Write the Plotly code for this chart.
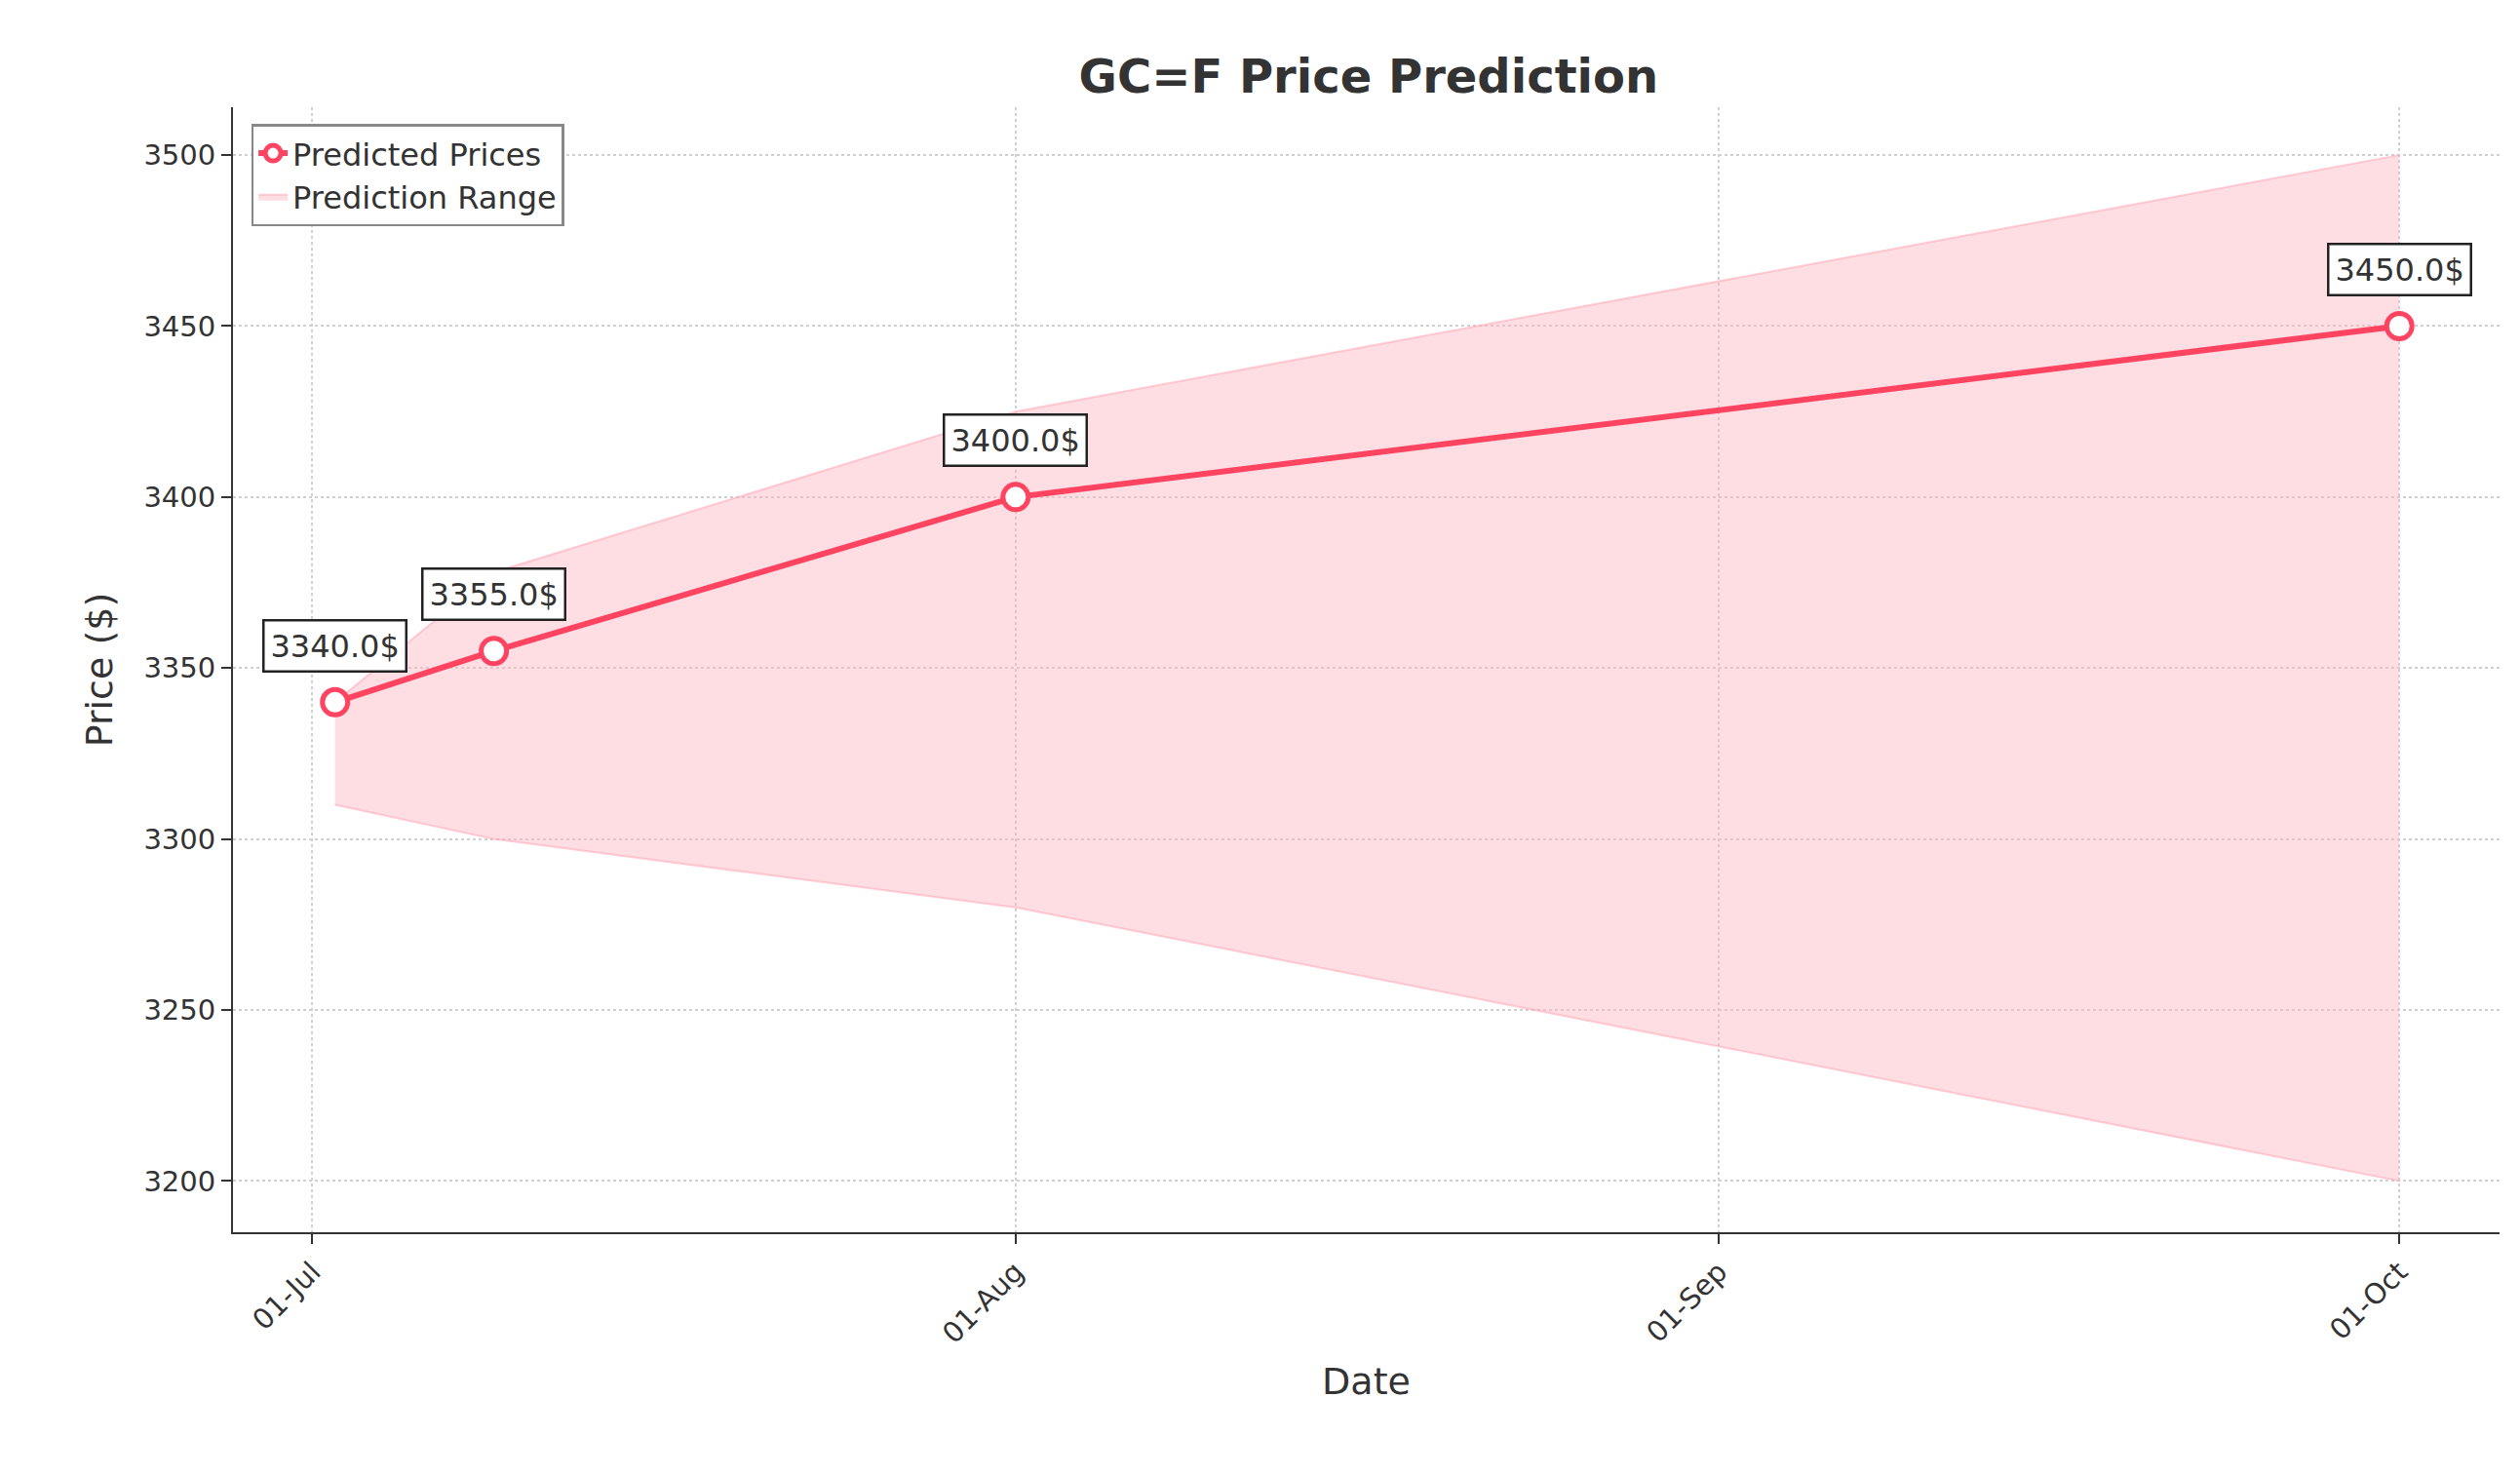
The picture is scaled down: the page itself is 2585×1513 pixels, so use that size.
import plotly.graph_objects as go

# Prediction data
dates = ["2025-07-02", "2025-07-09", "2025-08-01", "2025-10-01"]
predicted = [3340.0, 3355.0, 3400.0, 3450.0]
lower = [3310, 3300, 3280, 3200]
upper = [3340, 3378, 3425, 3500]

tick_vals = ["2025-07-01", "2025-08-01", "2025-09-01", "2025-10-01"]
tick_text = ["01-Jul", "01-Aug", "01-Sep", "01-Oct"]

line_color = "#ff4461"
band_color = "rgba(255,182,193,0.45)"

fig = go.Figure()

fig.add_trace(go.Scatter(
    x=dates, y=lower, mode="lines", line=dict(color="rgba(255,160,175,0.5)", width=2),
    showlegend=False, hoverinfo="skip"))
fig.add_trace(go.Scatter(
    x=dates, y=upper, mode="lines", line=dict(color="rgba(255,160,175,0.5)", width=2),
    fill="tonexty", fillcolor=band_color, name="Prediction Range"))
fig.add_trace(go.Scatter(
    x=dates, y=predicted, mode="lines+markers", name="Predicted Prices",
    line=dict(color=line_color, width=6),
    marker=dict(size=26, color="white", line=dict(color=line_color, width=5))))

for d, p in zip(dates, predicted):
    fig.add_annotation(
        x=d, y=p, text=f"{p}$", showarrow=False, yshift=58,
        font=dict(size=32, color="#333333", family="DejaVu Sans"),
        bgcolor="white", bordercolor="#222222", borderwidth=2.5, borderpad=6)

fig.update_layout(
    width=2585, height=1513,
    plot_bgcolor="white", paper_bgcolor="white",
    font=dict(family="DejaVu Sans", color="#333333", size=29),
    title=dict(text="<b>GC=F Price Prediction</b>", x=0.54, xanchor="center",
               y=0.965, font=dict(size=48, color="#333333")),
    margin=dict(l=231, r=29, t=102, b=257),
    legend=dict(x=0.008, y=0.985, xanchor="left", yanchor="top",
                bordercolor="#888888", borderwidth=2.5, bgcolor="white",
                font=dict(size=32), traceorder="reversed"),
)

fig.update_xaxes(
    range=["2025-06-27 12:00", "2025-10-05 10:00"],
    tickvals=tick_vals, ticktext=tick_text, tickangle=-45,
    title=dict(text="Date", font=dict(size=38), standoff=20),
    showline=True, linecolor="#333333", linewidth=2,
    ticks="outside", ticklen=10, tickwidth=2, tickcolor="#333333",
    showgrid=True, gridcolor="#d0d0d0", griddash="dot", gridwidth=1.5,
    tickfont=dict(size=29), zeroline=False)
fig.update_yaxes(
    range=[3185, 3514], tickvals=[3200, 3250, 3300, 3350, 3400, 3450, 3500],
    title=dict(text="Price ($)", font=dict(size=38), standoff=20),
    showline=True, linecolor="#333333", linewidth=2,
    ticks="outside", ticklen=10, tickwidth=2, tickcolor="#333333",
    showgrid=True, gridcolor="#d0d0d0", griddash="dot", gridwidth=1.5,
    tickfont=dict(size=29), zeroline=False)

fig.write_html("out.html")
